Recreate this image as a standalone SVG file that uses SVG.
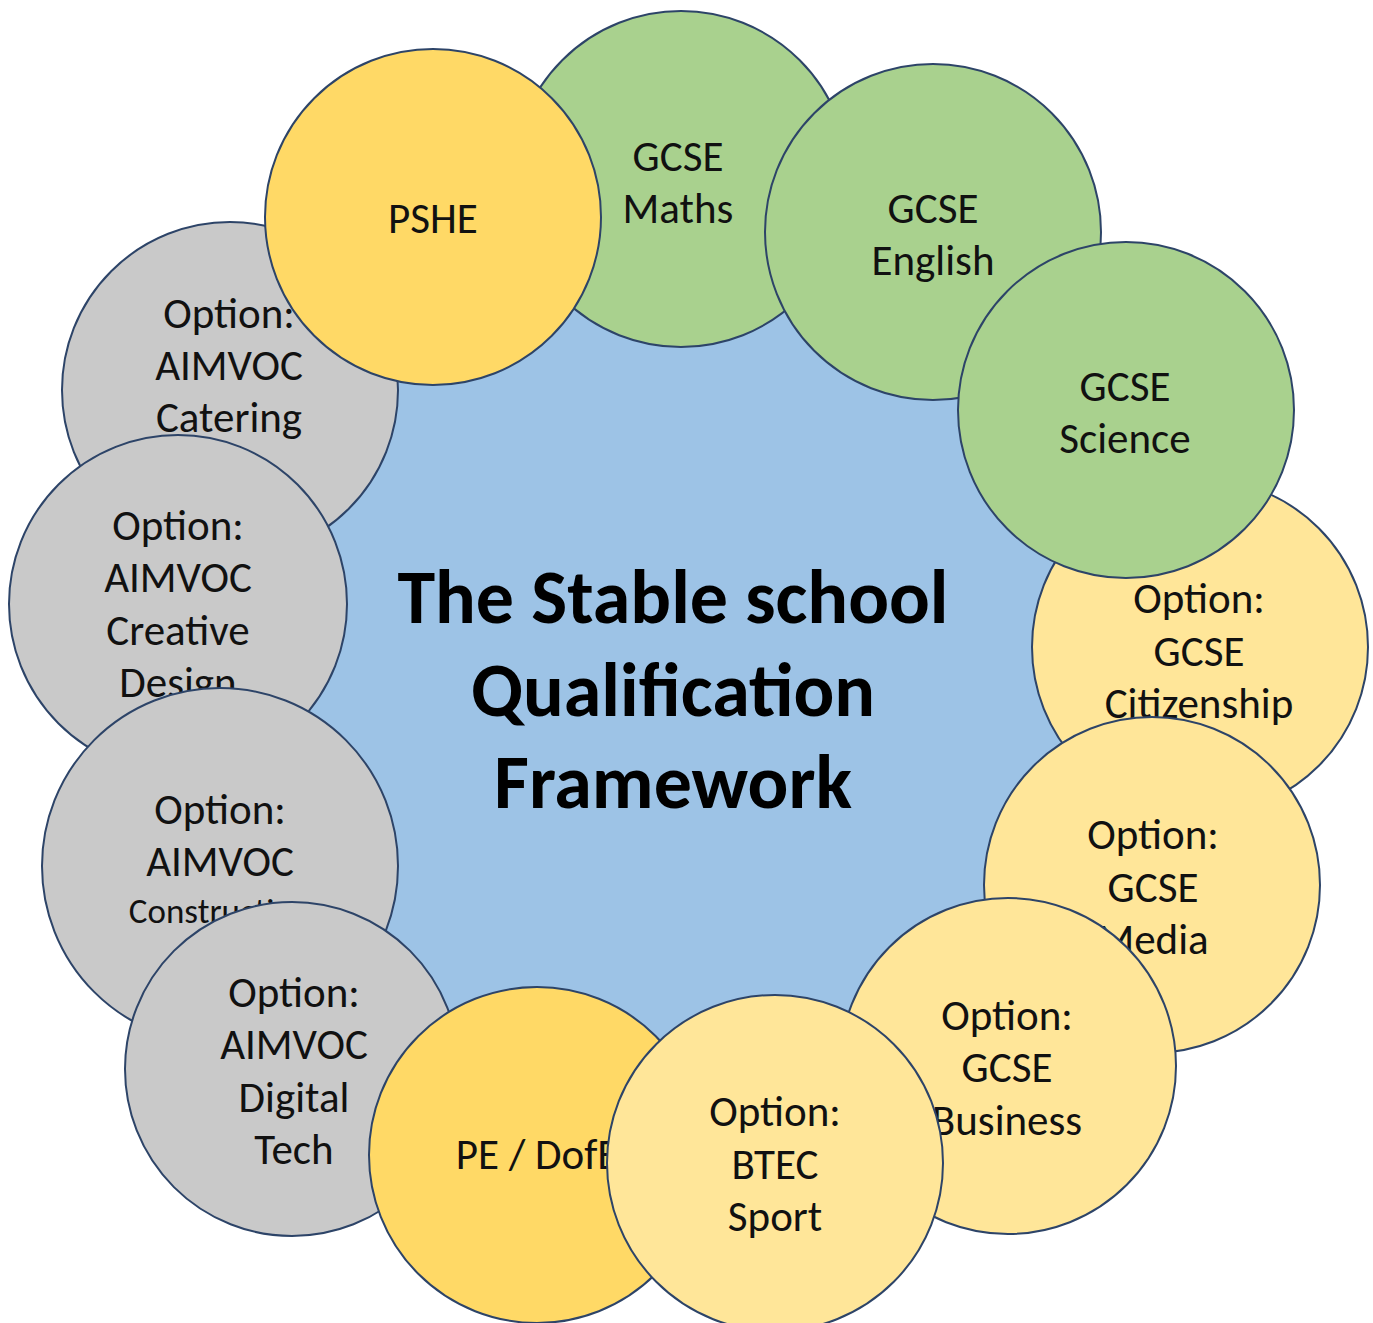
<svg xmlns="http://www.w3.org/2000/svg" width="1373" height="1323" viewBox="0 0 1373 1323">
<style>
.c{stroke:#2D4468;stroke-width:2}
.g{fill:#C9C9C9}.gr{fill:#A9D18E}.y{fill:#FFE699}.o{fill:#FFD966}.b{fill:#9DC3E6;stroke:none}
text{font-family:Carlito,Lato,"Liberation Sans",sans-serif;font-size:43px;fill:#111;text-anchor:middle}
.t{font-weight:bold;font-size:76px;fill:#000}
</style>
<rect width="1373" height="1323" fill="#fff"/>
<g id="center"><circle class="b" cx="686" cy="680" r="440"/>
<text class="t" x="673" y="623">The Stable school</text><text class="t" x="673" y="716">Qualification</text><text class="t" x="673" y="808">Framework</text></g>
<g id="catering"><circle class="c g" cx="230" cy="390" r="168"/><text x="229" y="328">Option:</text><text x="229" y="380">AIMVOC</text><text x="229" y="432">Catering</text></g>
<g id="creative"><circle class="c g" cx="178" cy="604" r="169"/><text x="178" y="540">Option:</text><text x="178" y="592">AIMVOC</text><text x="178" y="645">Creative</text><text x="178" y="697">Design</text></g>
<g id="construction"><circle class="c g" cx="220" cy="866" r="178"/><text x="220" y="824">Option:</text><text x="220" y="876">AIMVOC</text><text x="220" y="923" style="font-size:35px">Construction</text></g>
<g id="digital"><circle class="c g" cx="292" cy="1069" r="167"/><text x="294" y="1007">Option:</text><text x="294" y="1059">AIMVOC</text><text x="294" y="1112">Digital</text><text x="294" y="1164">Tech</text></g>
<g id="pe"><circle class="c o" cx="537" cy="1155" r="168"/><text x="537" y="1169">PE / DofE</text></g>
<g id="citizenship"><circle class="c y" cx="1200" cy="647" r="168"/><text x="1199" y="613">Option:</text><text x="1199" y="666">GCSE</text><text x="1199" y="718">Citizenship</text></g>
<g id="media"><circle class="c y" cx="1152" cy="885" r="168"/><text x="1153" y="849">Option:</text><text x="1153" y="902">GCSE</text><text x="1153" y="954">Media</text></g>
<g id="business"><circle class="c y" cx="1008" cy="1066" r="168"/><text x="1007" y="1030">Option:</text><text x="1007" y="1082">GCSE</text><text x="1007" y="1135">Business</text></g>
<g id="sport"><circle class="c y" cx="775" cy="1163" r="168"/><text x="775" y="1126">Option:</text><text x="775" y="1179">BTEC</text><text x="775" y="1231">Sport</text></g>
<g id="maths"><circle class="c gr" cx="681" cy="179" r="168"/><text x="678" y="171">GCSE</text><text x="678" y="223">Maths</text></g>
<g id="english"><circle class="c gr" cx="933" cy="232" r="168"/><text x="933" y="223">GCSE</text><text x="933" y="275">English</text></g>
<g id="science"><circle class="c gr" cx="1126" cy="410" r="168"/><text x="1125" y="401">GCSE</text><text x="1125" y="453">Science</text></g>
<g id="pshe"><circle class="c o" cx="433" cy="217" r="168"/><text x="433" y="233">PSHE</text></g>
<g id="connectors"/>
</svg>
